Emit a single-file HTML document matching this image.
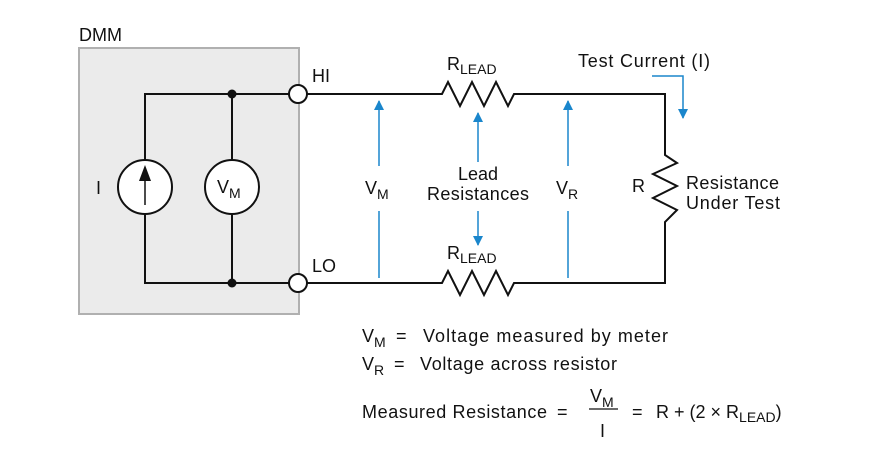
<!DOCTYPE html>
<html><head><meta charset="utf-8"><style>
html,body{margin:0;padding:0;background:#fff;}
svg{display:block;}
text{font-family:"Liberation Sans",sans-serif;fill:#111;white-space:pre;}
</style></head><body>
<svg width="877" height="453" viewBox="0 0 877 453" xmlns="http://www.w3.org/2000/svg">
<defs>
<marker id="ah" viewBox="0 0 10 10" refX="9" refY="5" markerWidth="10" markerHeight="12" markerUnits="userSpaceOnUse" orient="auto">
<path d="M0,0 L10,5 L0,10 z" fill="#1a86cc"/></marker>
</defs>
<rect x="79" y="48" width="220" height="266" fill="#ebebeb" stroke="#b0b0b0" stroke-width="2"/>
<text x="79" y="41" font-size="18">DMM</text>
<g stroke="#111" stroke-width="2" fill="none">
<path d="M145,160 V94 H289 M145,214 V283 H289"/>
<path d="M232,94 V160 M232,214 V283"/>
<path d="M307,94 H442 L448,82 L460,106 L472,82 L484,106 L496,82 L508,106 L514,94 H665 V155 L677,163 L653,174 L677,186 L653,198 L677,210 L665,222 V283 H514 L508,295 L496,271 L484,295 L472,271 L460,295 L448,271 L442,283 H307"/>
</g>
<circle cx="145" cy="187" r="27" fill="#fff" stroke="#111" stroke-width="2"/>
<circle cx="232" cy="187" r="27" fill="#fff" stroke="#111" stroke-width="2"/>
<line x1="145" y1="205" x2="145" y2="178" stroke="#111" stroke-width="1.5"/>
<path d="M139,181 L145,165 L151,181 z" fill="#111"/>
<circle cx="232" cy="94" r="4.5" fill="#111"/>
<circle cx="232" cy="283" r="4.5" fill="#111"/>
<circle cx="298" cy="94" r="9" fill="#fff" stroke="#111" stroke-width="2"/>
<circle cx="298" cy="283" r="9" fill="#fff" stroke="#111" stroke-width="2"/>
<text x="96" y="194" font-size="18">I</text>
<text x="217" y="193" font-size="18">V<tspan font-size="14" dy="5">M</tspan></text>
<text x="312" y="82" font-size="18">HI</text>
<text x="312" y="272" font-size="18">LO</text>
<g stroke="#1a86cc" stroke-width="1.5" fill="none" marker-end="url(#ah)">
<path d="M379,166 V101"/>
<path d="M568,166 V101"/>
<path d="M478,162 V113"/>
<path d="M478,211 V245"/>
<path d="M652,76 H683 V118"/>
</g>
<g stroke="#1a86cc" stroke-width="1.5">
<path d="M379,211 V278 M568,211 V278"/>
</g>
<text x="447" y="70" font-size="18">R<tspan font-size="14" dy="4">LEAD</tspan></text>
<text x="447" y="259" font-size="18">R<tspan font-size="14" dy="4">LEAD</tspan></text>
<text x="578" y="67" font-size="18" textLength="132" lengthAdjust="spacing">Test Current (I)</text>
<text x="478" y="180" font-size="18" text-anchor="middle">Lead</text>
<text x="478" y="200" font-size="18" text-anchor="middle" textLength="102" lengthAdjust="spacing">Resistances</text>
<text x="365" y="194" font-size="18">V<tspan font-size="14" dy="5">M</tspan></text>
<text x="556" y="194" font-size="18">V<tspan font-size="14" dy="5">R</tspan></text>
<text x="632" y="192" font-size="18">R</text>
<text x="686" y="189" font-size="18" textLength="93" lengthAdjust="spacing">Resistance</text>
<text x="686" y="209" font-size="18" textLength="94" lengthAdjust="spacing">Under Test</text>
<text x="362" y="342" font-size="18">V<tspan font-size="14" dy="5">M</tspan></text>
<text x="396" y="342" font-size="18">=</text>
<text x="423" y="342" font-size="18" textLength="245" lengthAdjust="spacing">Voltage measured by meter</text>
<text x="362" y="370" font-size="18">V<tspan font-size="14" dy="5">R</tspan></text>
<text x="394" y="370" font-size="18">=</text>
<text x="420" y="370" font-size="18" textLength="197" lengthAdjust="spacing">Voltage across resistor</text>
<text x="362" y="418" font-size="18" textLength="185" lengthAdjust="spacing">Measured Resistance</text>
<text x="557" y="418" font-size="18">=</text>
<text x="590" y="402" font-size="18">V<tspan font-size="14" dy="5">M</tspan></text>
<line x1="589" y1="409" x2="618" y2="409" stroke="#111" stroke-width="1.2"/>
<text x="600" y="437" font-size="18">I</text>
<text x="632" y="418" font-size="18">=</text>
<text x="656" y="418" font-size="18">R + (2 × R<tspan font-size="14" dy="4">LEAD</tspan><tspan dy="-4">)</tspan></text>
</svg>
</body></html>
